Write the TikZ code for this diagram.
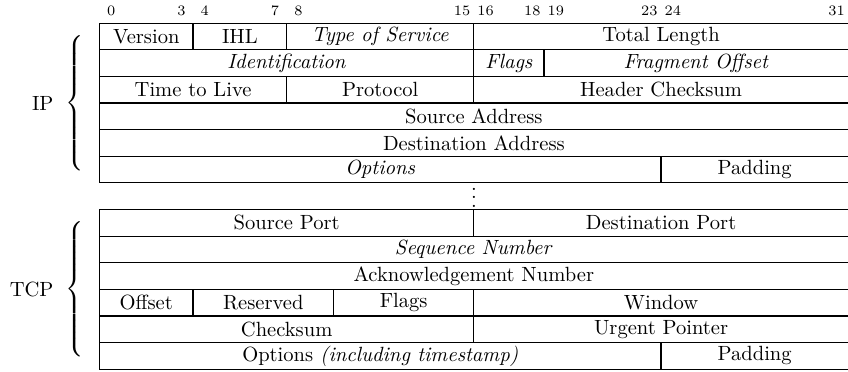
\documentclass[tikz,border=0pt]{standalone}
\usetikzlibrary{positioning}
\tikzset{
  fld/.style={draw, rectangle, inner sep=0pt, minimum height=0.455cm},
  bitno/.style={font=\scriptsize, anchor=base, inner sep=0pt},
  hdrbrace/.style={anchor=east, inner sep=0pt},
  hdrname/.style={inner sep=0pt}
}

\begin{document}
\begin{tikzpicture}[
  x=0.4cm,
  y=0.455cm,
  line width=0.6pt
]
  \useasboundingbox (-1.70cm,-5.948cm) rectangle (12.795cm,0.396cm);

  % bit numbers
  \node[bitno] (b0) at (0.5,0.3) {0};
  \node[bitno] (b3) at (3.5,0.3) {3};
  \node[bitno] (b4) at (4.5,0.3) {4};
  \node[bitno] (b7) at (7.5,0.3) {7};
  \node[bitno] (b8) at (8.5,0.3) {8};
  \node[bitno] (b15) at (15.5,0.3) {15};
  \node[bitno] (b16) at (16.5,0.3) {16};
  \node[bitno] (b18) at (18.5,0.3) {18};
  \node[bitno] (b19) at (19.5,0.3) {19};
  \node[bitno] (b23) at (23.5,0.3) {23};
  \node[bitno] (b24) at (24.5,0.3) {24};
  \node[bitno] (b31) at (31.5,0.3) {31};

  % IP header
  \node[fld, minimum width=1.6cm] (ipver) at (2,-0.5) {Version};
  \node[fld, minimum width=1.6cm] (ipihl) at (6,-0.5) {IHL};
  \node[fld, minimum width=3.2cm] (iptos) at (12,-0.5) {\textit{Type of Service}};
  \node[fld, minimum width=6.4cm] (iplen) at (24,-0.5) {Total Length};

  \node[fld, minimum width=6.4cm] (ipid) at (8,-1.5) {\textit{Identification}};
  \node[fld, minimum width=1.2cm] (ipflags) at (17.5,-1.5) {\textit{Flags}};
  \node[fld, minimum width=5.2cm] (ipfrag) at (25.5,-1.5) {\textit{Fragment Offset}};

  \node[fld, minimum width=3.2cm] (ipttl) at (4,-2.5) {Time to Live};
  \node[fld, minimum width=3.2cm] (ipproto) at (12,-2.5) {Protocol};
  \node[fld, minimum width=6.4cm] (ipsum) at (24,-2.5) {Header Checksum};

  \node[fld, minimum width=12.8cm] (ipsrc) at (16,-3.5) {Source Address};
  \node[fld, minimum width=12.8cm] (ipdst) at (16,-4.5) {Destination Address};

  \node[fld, minimum width=9.6cm] (ipopt) at (12,-5.5) {\textit{Options}};
  \node[fld, minimum width=3.2cm] (ippad) at (28,-5.5) {Padding};

  \node (gap) at (16,-6.33) {$\vdots$};

  % TCP header
  \node[fld, minimum width=6.4cm] (tcpsrc) at (8,-7.5) {Source Port};
  \node[fld, minimum width=6.4cm] (tcpdst) at (24,-7.5) {Destination Port};

  \node[fld, minimum width=12.8cm] (tcpseq) at (16,-8.5) {\textit{Sequence Number}};
  \node[fld, minimum width=12.8cm] (tcpack) at (16,-9.5) {Acknowledgement Number};

  \node[fld, minimum width=1.6cm] (tcpoff) at (2,-10.5) {Offset};
  \node[fld, minimum width=2.4cm] (tcpres) at (7,-10.5) {Reserved};
  \node[fld, minimum width=2.4cm] (tcpflags) at (13,-10.5) {Flags};
  \node[fld, minimum width=6.4cm] (tcpwin) at (24,-10.5) {Window};

  \node[fld, minimum width=6.4cm] (tcpsum) at (8,-11.5) {Checksum};
  \node[fld, minimum width=6.4cm] (tcpurg) at (24,-11.5) {Urgent Pointer};

  \node[fld, minimum width=9.6cm] (tcpopt) at (12,-12.5) {Options \textit{(including timestamp)}};
  \node[fld, minimum width=3.2cm] (tcppad) at (28,-12.5) {Padding};

  % braces and names
  \node[hdrbrace] (ipbrace) at (-0.55,-3) {$\left\{\vrule height 37.5pt depth 32.5pt width 0pt\right.$};
  \node[hdrname, left=0.18cm of ipbrace] (ip) {IP};
  \node[hdrbrace] (tcpbrace) at (-0.55,-10) {$\left\{\vrule height 37.5pt depth 32.5pt width 0pt\right.$};
  \node[hdrname, left=0.18cm of tcpbrace] (tcp) {TCP};
\end{tikzpicture}
\end{document}
